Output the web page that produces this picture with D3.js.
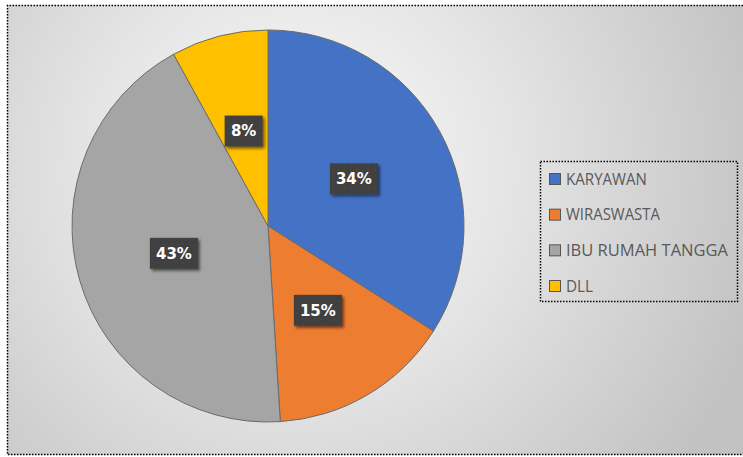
<!DOCTYPE html>
<html>
<head>
<meta charset="utf-8">
<script src="https://cdn.jsdelivr.net/npm/d3@7"></script>
<style>
html,body{margin:0;padding:0;background:#fff;}
svg{display:block;}
</style>
</head>
<body>
<svg id="chart" width="743" height="457"></svg>
<script>
const categories = ["KARYAWAN", "WIRASWASTA", "IBU RUMAH TANGGA", "DLL"];
const values = [34, 15, 43, 8];
const labels = ["34%", "15%", "43%", "8%"];
const colors = ["#4472C4", "#ED7D31", "#A5A5A5", "#FFC000"];

const svg = d3.select("#chart");
const W = 743, H = 457;
const defs = svg.append("defs");

const bg = defs.append("radialGradient").attr("id","bg")
  .attr("gradientUnits","userSpaceOnUse")
  .attr("cx",300).attr("cy",170).attr("r",480);
bg.append("stop").attr("offset","0").attr("stop-color","#fbfbfb");
bg.append("stop").attr("offset","0.45").attr("stop-color","#e4e4e4");
bg.append("stop").attr("offset","1").attr("stop-color","#c2c2c2");

const pat = defs.append("pattern").attr("id","dots").attr("patternUnits","userSpaceOnUse")
  .attr("width",6).attr("height",6);
pat.append("rect").attr("width",6).attr("height",6).attr("fill","#3f3f3f");
pat.append("circle").attr("cx",3).attr("cy",3).attr("r",0.8).attr("fill","#4d4d4d");

const sh = defs.append("filter").attr("id","shadow").attr("x","-30%").attr("y","-30%").attr("width","170%").attr("height","170%");
sh.append("feDropShadow").attr("dx",2).attr("dy",2).attr("stdDeviation",1.8).attr("flood-color","#000").attr("flood-opacity",0.55);

// background
svg.append("rect").attr("x",7).attr("y",5).attr("width",W-7).attr("height",450)
  .attr("fill","url(#bg)");
// dotted border
svg.append("path").attr("d",`M${W},5.5 H7.5 V454.5 H${W}`)
  .attr("fill","none").attr("stroke","#000").attr("stroke-width",1.5).attr("stroke-dasharray","1.5,1.5");

// pie
const cx = 268, cy = 226, R = 196;
const pie = d3.pie().sort(null).value(d => d)(values);
const arc = d3.arc().innerRadius(0).outerRadius(R);
const g = svg.append("g").attr("transform",`translate(${cx},${cy})`);
g.selectAll("path").data(pie).join("path")
  .attr("d",arc)
  .attr("fill",(d,i)=>colors[i])
  .attr("stroke","#6b6b6b").attr("stroke-width",1);

// labels
const labelArc = d3.arc().innerRadius(R*0.5).outerRadius(R*0.5);
const lg = g.selectAll("g.lab").data(pie).join("g").attr("class","lab")
  .attr("transform",d=>{const c=labelArc.centroid(d);return `translate(${c[0]},${c[1]})`;});
lg.append("rect")
  .attr("x",(d,i)=>labels[i].length>2?-24:-19).attr("y",-15.5)
  .attr("width",(d,i)=>labels[i].length>2?48:38).attr("height",31)
  .attr("fill","url(#dots)").attr("filter","url(#shadow)");
lg.append("text").text((d,i)=>labels[i])
  .attr("text-anchor","middle").attr("dy","0.36em")
  .attr("font-family","'DejaVu Sans', sans-serif").attr("font-weight","bold")
  .attr("font-size",15).attr("fill","#fff");

// legend
const L = svg.append("g");
L.append("rect").attr("x",540.5).attr("y",161.5).attr("width",197).attr("height",140)
  .attr("fill","none").attr("stroke","#000").attr("stroke-width",1.5).attr("stroke-dasharray","1.5,1.5");
const ly = d3.scalePoint().domain(categories).range([179,286]);
const li = L.selectAll("g.li").data(categories).join("g").attr("class","li")
  .attr("transform",d=>`translate(549,${ly(d)})`);
li.append("rect").attr("x",0.5).attr("y",-5.5).attr("width",11).attr("height",11)
  .attr("fill",(d,i)=>colors[i]).attr("stroke","#555").attr("stroke-width",1);
li.append("text").text(d=>d).attr("x",17).attr("dy","0.37em")
  .attr("font-family","'Open Sans', sans-serif").attr("font-size",15.5)
  .attr("fill","#595959")
  .attr("textLength",(d)=>({"KARYAWAN":81,"WIRASWASTA":94,"IBU RUMAH TANGGA":162,"DLL":27})[d])
  .attr("lengthAdjust","spacingAndGlyphs");
</script>
</body>
</html>
